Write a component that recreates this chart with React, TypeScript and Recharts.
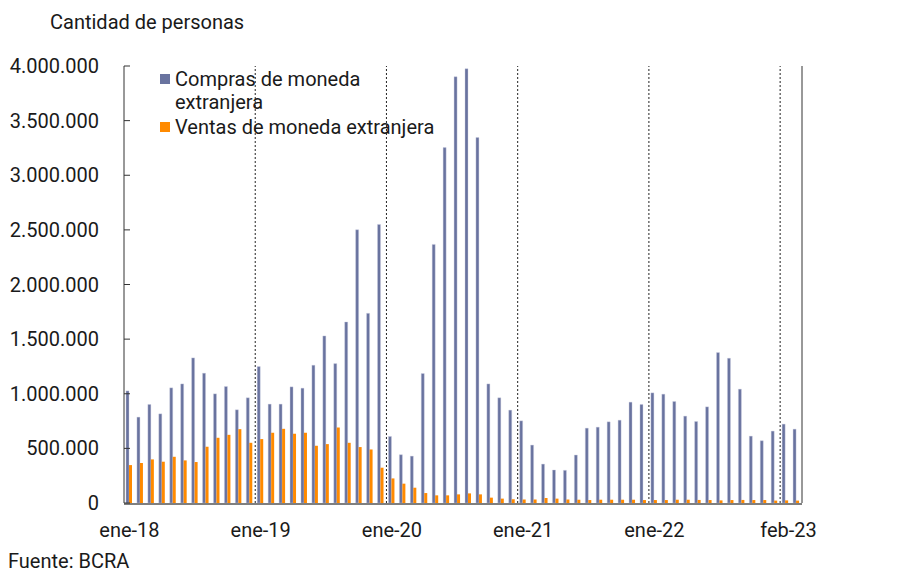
import React from 'react';
import {
  BarChart,
  Bar,
  XAxis,
  YAxis,
  Legend,
  ReferenceLine,
} from 'recharts';

const MESES = ['ene', 'feb', 'mar', 'abr', 'may', 'jun', 'jul', 'ago', 'sep', 'oct', 'nov', 'dic'];
const ANIOS = ['18', '19', '20', '21', '22', '23'];
const PERIODOS = ANIOS.flatMap((a) => MESES.map((m) => `${m}-${a}`)).slice(0, 62);

const COMPRAS = [
  1026000, 786000, 902000, 816000, 1054000, 1090000, 1328000, 1188000, 999000, 1066000, 853000, 963000,
  1249000, 905000, 905000, 1063000, 1051000, 1261000, 1529000, 1276000, 1657000, 2501000, 1736000, 2550000,
  609000, 442000, 429000, 1185000, 2367000, 3253000, 3902000, 3975000, 3345000, 1090000, 963000, 850000,
  752000, 530000, 356000, 302000, 299000, 439000, 685000, 694000, 743000, 758000, 923000, 902000,
  1008000, 996000, 929000, 795000, 746000, 880000, 1377000, 1325000, 1042000, 612000, 570000, 658000,
  722000, 676000,
];

const VENTAS = [
  347000, 366000, 399000, 378000, 423000, 390000, 375000, 515000, 597000, 624000, 676000, 551000,
  585000, 643000, 679000, 634000, 643000, 524000, 539000, 691000, 551000, 512000, 490000, 323000,
  225000, 177000, 140000, 91000, 70000, 70000, 79000, 88000, 79000, 49000, 40000, 34000,
  32000, 32000, 46000, 40000, 32000, 30000, 27000, 30000, 30000, 30000, 30000, 27000,
  27000, 27000, 30000, 30000, 28000, 27000, 24000, 27000, 28000, 27000, 27000, 22000,
  24000, 22000,
];

const Y_TICKS = [0, 500000, 1000000, 1500000, 2000000, 2500000, 3000000, 3500000, 4000000];
const X_LABELS = ['ene-18', 'ene-19', 'ene-20', 'ene-21', 'ene-22', 'feb-23'];
const DIVISORES = ['ene-19', 'ene-20', 'ene-21', 'ene-22', 'ene-23'];

const data = PERIODOS.map((p, i) => ({ periodo: p, compras: COMPRAS[i], ventas: VENTAS[i] }));

const FONT = 'Roboto, "Noto Sans", sans-serif';
const FS = 20;
const AZUL = '#69739f';
const NARANJA = '#ff8a00';

const fmt = (v: number) => String(v).replace(/\B(?=(\d{3})+(?!\d))/g, '.');

const LeftTick = (props: any) => {
  const { x, y, payload } = props;
  return (
    <g>
      <line x1={x + 25} x2={x + 31} y1={y} y2={y} stroke="#333" strokeWidth={1} />
      <text x={x} y={y} dy="0.355em" textAnchor="end" fill="#1a1a1a" fontSize={FS} fontFamily={FONT}>
        {fmt(payload.value)}
      </text>
    </g>
  );
};

const RightTick = (props: any) => {
  const { x, y, payload } = props;
  return (
    <g>
      <line x1={x - 24.5} x2={x - 18.5} y1={y} y2={y} stroke="#333" strokeWidth={1} />
      <text x={x} y={y} dy="0.355em" textAnchor="start" fill="#1a1a1a" fontSize={FS} fontFamily={FONT}>
        {fmt(payload.value)}
      </text>
    </g>
  );
};

const MonthTick = (props: any) => {
  const { x, y, payload } = props;
  if (!X_LABELS.includes(payload.value)) return null;
  const shift = payload.value === 'feb-23' ? -8 : 0;
  return (
    <text x={x + shift} y={y + 34} textAnchor="middle" fill="#1a1a1a" fontSize={FS} fontFamily={FONT}>
      {payload.value}
    </text>
  );
};

const LegendBox = (props: any) => {
  const { payload = [] } = props;
  return (
    <div style={{ fontFamily: FONT, fontSize: FS, color: '#1a1a1a', lineHeight: '23px' }}>
      {payload.map((item: any) => (
        <div key={item.value} style={{ display: 'flex', alignItems: 'flex-start', marginBottom: 2 }}>
          <span
            style={{
              display: 'inline-block',
              width: 10,
              height: 10,
              background: item.color,
              marginTop: 6,
              marginRight: 5,
              flexShrink: 0,
            }}
          />
          <span style={{ width: 268 }}>{item.value}</span>
        </div>
      ))}
    </div>
  );
};

export default function App() {
  return (
    <div style={{ position: 'absolute', left: 0, top: 0, width: 910, height: 572, background: '#fff' }}>
      <div
        style={{
          position: 'absolute',
          left: 50,
          top: 10,
          fontFamily: FONT,
          fontSize: FS,
          lineHeight: '24px',
          color: '#1a1a1a',
        }}
      >
        Cantidad de personas
      </div>
      <BarChart
        width={910}
        height={572}
        data={data}
        margin={{ top: 66, right: 8, left: 0, bottom: 39 }}
        barCategoryGap={2}
        barGap={0}
      >
        <XAxis
          dataKey="periodo"
          interval={0}
          tickSize={0}
          tickMargin={0}
          height={30}
          tick={<MonthTick />}
          axisLine={{ stroke: '#7f7f7f', strokeWidth: 2, transform: 'translate(0,1)' }}
          tickLine={false}
        />
        <YAxis
          yAxisId="left"
          width={124}
          domain={[0, 4000000]}
          ticks={Y_TICKS}
          tickSize={0}
          tickMargin={25}
          tick={<LeftTick />}
          axisLine={{ stroke: '#333' }}
          tickLine={false}
        />
        <YAxis
          yAxisId="right"
          orientation="right"
          width={100}
          domain={[0, 4000000]}
          ticks={Y_TICKS}
          tickSize={0}
          tickMargin={18.5}
          tick={<RightTick />}
          axisLine={{ stroke: '#333' }}
          tickLine={false}
        />
        {DIVISORES.map((d) => (
          <ReferenceLine
            key={d}
            yAxisId="left"
            x={d}
            position="start"
            stroke="#222"
            strokeWidth={1}
            strokeDasharray="2 2"
          />
        ))}
        <Legend
          layout="horizontal"
          verticalAlign="middle"
          align="center"
          content={<LegendBox />}
          wrapperStyle={{ position: 'absolute', left: 160, top: 68, width: 300, height: 'auto' }}
        />
        <Bar
          yAxisId="left"
          dataKey="compras"
          name="Compras de moneda extranjera"
          fill={AZUL}
          stroke="#c9cde0"
          strokeWidth={0.4}
          isAnimationActive={false}
        />
        <Bar
          yAxisId="left"
          dataKey="ventas"
          name="Ventas de moneda extranjera"
          fill={NARANJA}
          isAnimationActive={false}
        />
      </BarChart>
      <div
        style={{
          position: 'absolute',
          left: 8,
          top: 551,
          fontFamily: FONT,
          fontSize: FS,
          lineHeight: '20px',
          color: '#1a1a1a',
        }}
      >
        Fuente: BCRA
      </div>
    </div>
  );
}
